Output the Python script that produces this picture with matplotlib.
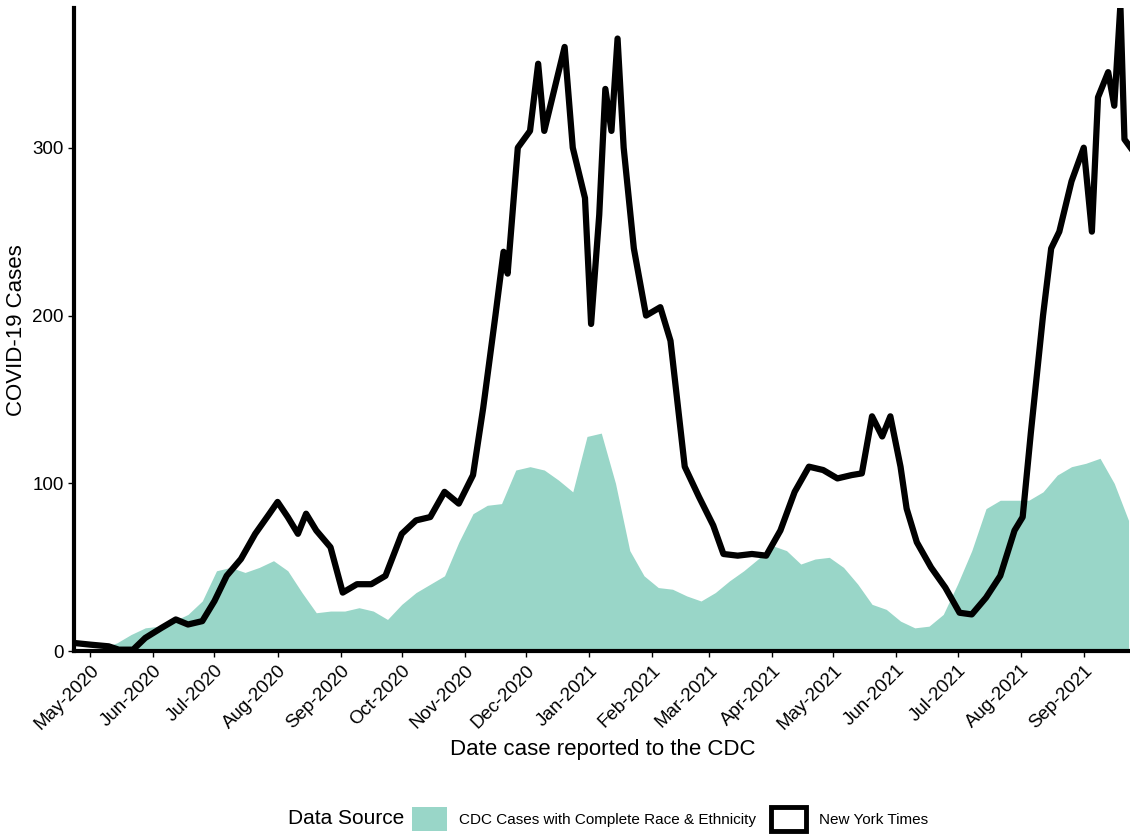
import matplotlib
matplotlib.use("Agg")
import matplotlib.pyplot as plt
import matplotlib.dates as mdates
import pandas as pd
from matplotlib.patches import Patch

plt.rcParams['font.family'] = ['Liberation Sans', 'DejaVu Sans']

nyt_dates = ["2020-04-23","2020-05-01","2020-05-10","2020-05-15","2020-05-22","2020-05-28","2020-06-05","2020-06-12","2020-06-18","2020-06-25",
 "2020-07-01","2020-07-07","2020-07-14","2020-07-21","2020-07-28","2020-08-01","2020-08-06","2020-08-11","2020-08-15","2020-08-20","2020-08-27",
 "2020-09-02","2020-09-09","2020-09-16","2020-09-23","2020-10-01","2020-10-08","2020-10-15","2020-10-22","2020-10-29","2020-11-05","2020-11-10",
 "2020-11-16","2020-11-20","2020-11-22","2020-11-27","2020-12-03","2020-12-07","2020-12-10","2020-12-15","2020-12-20","2020-12-24","2020-12-28",
 "2020-12-30","2021-01-02","2021-01-06","2021-01-09","2021-01-12","2021-01-15","2021-01-18","2021-01-23","2021-01-29","2021-02-05","2021-02-10",
 "2021-02-17","2021-02-24","2021-03-03","2021-03-08","2021-03-15","2021-03-22","2021-03-29","2021-04-05","2021-04-12","2021-04-19","2021-04-26",
 "2021-05-03","2021-05-10","2021-05-15","2021-05-20","2021-05-25","2021-05-29","2021-06-03","2021-06-06","2021-06-11","2021-06-18","2021-06-25",
 "2021-07-02","2021-07-08","2021-07-15","2021-07-22","2021-07-29","2021-08-02","2021-08-06","2021-08-12","2021-08-16","2021-08-20","2021-08-26",
 "2021-09-01","2021-09-05","2021-09-08","2021-09-13","2021-09-16","2021-09-19","2021-09-21","2021-09-24"]
nyt_values = [5,4,3,1,1,8,14,19,16,18,
 30,45,55,70,82,89,80,70,82,72,62,
 35,40,40,45,70,78,80,95,88,105,145,
 200,238,225,300,310,350,310,335,360,300,280,
 270,195,260,335,310,365,300,240,200,205,185,
 110,92,75,58,57,58,57,72,95,110,108,
 103,105,106,140,128,140,110,85,65,50,38,
 23,22,32,45,72,80,130,200,240,250,280,
 300,250,330,345,325,385,305,300]

cdc_dates = pd.date_range("2020-04-23", "2021-09-23", freq="7D")
cdc_values = [1,1,2,5,10,14,15,18,22,30,48,50,47,50,54,48,35,23,24,24,26,24,19,28,35,40,45,65,82,87,88,108,110,108,102,95,
 128,130,100,60,45,38,37,33,30,35,42,48,55,63,60,52,55,56,50,40,28,25,18,14,15,22,40,60,85,90,90,90,95,105,110,112,115,100,78]

fig = plt.figure(figsize=(11.3, 8.34), dpi=100)
ax = fig.add_axes([0.0655, 0.219, 0.935, 0.771])
ax.fill_between(cdc_dates[:len(cdc_values)], cdc_values, color="#99D6C8", lw=0)
ax.plot(pd.to_datetime(nyt_dates), nyt_values, color="black", lw=4.5, solid_joinstyle="round")
ax.set_xlim(pd.Timestamp("2020-04-23"), pd.Timestamp("2021-09-24"))
ax.set_ylim(0, 383)
ax.set_yticks([0, 100, 200, 300])
ax.xaxis.set_major_locator(mdates.MonthLocator())
ax.xaxis.set_major_formatter(mdates.DateFormatter("%b-%Y"))
for lab in ax.get_xticklabels():
    lab.set_rotation(45); lab.set_ha("right"); lab.set_rotation_mode("anchor")
ax.tick_params(labelsize=13.5, colors="black", width=1, length=4)
for s in ["top", "right"]:
    ax.spines[s].set_visible(False)
for s in ["left", "bottom"]:
    ax.spines[s].set_linewidth(3)
ax.set_xlabel("Date case reported to the CDC", fontsize=16)
ax.set_ylabel("COVID-19 Cases", fontsize=16)
handles = [Patch(facecolor="#99D6C8", edgecolor="none", label="CDC Cases with Complete Race & Ethnicity"),
           Patch(facecolor="white", edgecolor="black", lw=3.5, label="New York Times")]
fig.text(0.255, 0.018, "Data Source", fontsize=15, va="center")
fig.legend(handles=handles, loc="center left", bbox_to_anchor=(0.352, 0.018), ncol=2, frameon=False,
           fontsize=11, handlelength=2.3, handleheight=2.0, columnspacing=1.0, handletextpad=0.8)
fig.savefig("out.png", dpi=100)
